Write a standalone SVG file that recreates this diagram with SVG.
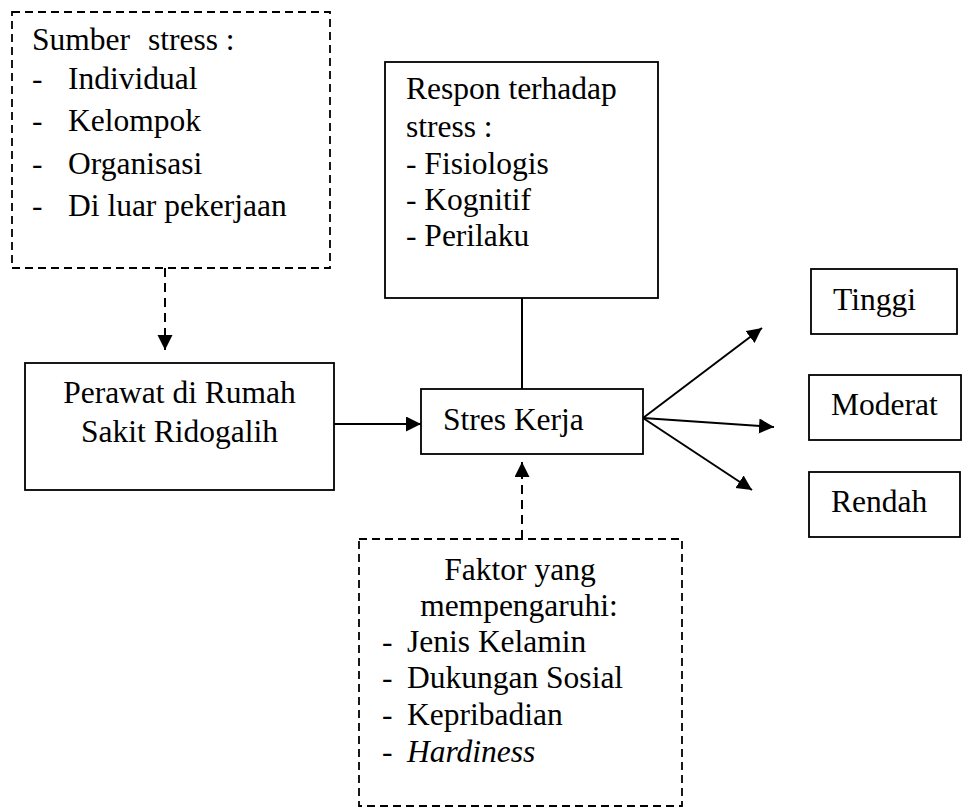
<svg xmlns="http://www.w3.org/2000/svg" width="962" height="810" viewBox="0 0 962 810">
<style>
text{font-family:"Liberation Serif","Times New Roman",serif;font-size:31.5px;fill:#000}
.box{fill:#fff;stroke:#000;stroke-width:1.8}
.dbox{fill:#fff;stroke:#000;stroke-width:1.8;stroke-dasharray:8 5}
.ln{stroke:#000;stroke-width:2;fill:none}
.dln{stroke:#000;stroke-width:2;fill:none;stroke-dasharray:9 6}
.c{text-anchor:middle}
</style>
<defs>
<marker id="ah" markerUnits="userSpaceOnUse" markerWidth="16" markerHeight="16" refX="15" refY="7.5" orient="auto">
<path d="M0,0 L15,7.5 L0,15 z" fill="#000" stroke="none"/>
</marker>
</defs>
<rect width="962" height="810" fill="#fff"/>
<g id="connectors">
<line class="dln" x1="165" y1="268" x2="165" y2="350" marker-end="url(#ah)"/>
<line class="ln" x1="334" y1="424" x2="421" y2="424" marker-end="url(#ah)"/>
<line class="ln" x1="522" y1="298" x2="522" y2="389"/>
<line class="dln" x1="522" y1="539" x2="522" y2="462" marker-end="url(#ah)"/>
<line class="ln" x1="643" y1="418" x2="762" y2="328" marker-end="url(#ah)"/>
<line class="ln" x1="643" y1="418" x2="774" y2="427" marker-end="url(#ah)"/>
<line class="ln" x1="643" y1="418" x2="752" y2="490" marker-end="url(#ah)"/>
</g>
<g id="sumber">
<rect class="dbox" x="12" y="12" width="318" height="256"/>
<text x="32" y="50">Sumber</text><text x="148" y="50">stress :</text>
<text x="32" y="89">-</text><text x="68" y="89">Individual</text>
<text x="32" y="131">-</text><text x="68" y="131">Kelompok</text>
<text x="32" y="174">-</text><text x="68" y="174">Organisasi</text>
<text x="32" y="216">-</text><text x="68" y="216">Di luar pekerjaan</text>
</g>
<g id="respon">
<rect class="box" x="385" y="62" width="273" height="236"/>
<text x="406" y="99">Respon terhadap</text>
<text x="406" y="137">stress :</text>
<text x="406" y="174">- Fisiologis</text>
<text x="406" y="210">- Kognitif</text>
<text x="406" y="246">- Perilaku</text>
</g>
<g id="perawat">
<rect class="box" x="25" y="363" width="309" height="127"/>
<text class="c" x="179.5" y="403">Perawat di Rumah</text>
<text class="c" x="179.5" y="442">Sakit Ridogalih</text>
</g>
<g id="stres">
<rect class="box" x="421" y="389" width="222" height="65"/>
<text x="443" y="430">Stres Kerja</text>
</g>
<g id="tinggi">
<rect class="box" x="811" y="269" width="146" height="65"/>
<text x="833" y="310">Tinggi</text>
</g>
<g id="moderat">
<rect class="box" x="809" y="375" width="152" height="65"/>
<text x="831" y="415">Moderat</text>
</g>
<g id="rendah">
<rect class="box" x="809" y="472" width="151" height="65"/>
<text x="831" y="512">Rendah</text>
</g>
<g id="faktor">
<rect class="dbox" x="359" y="539" width="323" height="267"/>
<text class="c" x="520" y="580">Faktor yang</text>
<text class="c" x="519" y="616">mempengaruhi:</text>
<text x="382" y="652">-</text><text x="407" y="652">Jenis Kelamin</text>
<text x="382" y="688">-</text><text x="407" y="688">Dukungan Sosial</text>
<text x="382" y="725">-</text><text x="407" y="725">Kepribadian</text>
<text x="382" y="762">-</text><text x="407" y="762" font-style="italic">Hardiness</text>
</g>
</svg>
